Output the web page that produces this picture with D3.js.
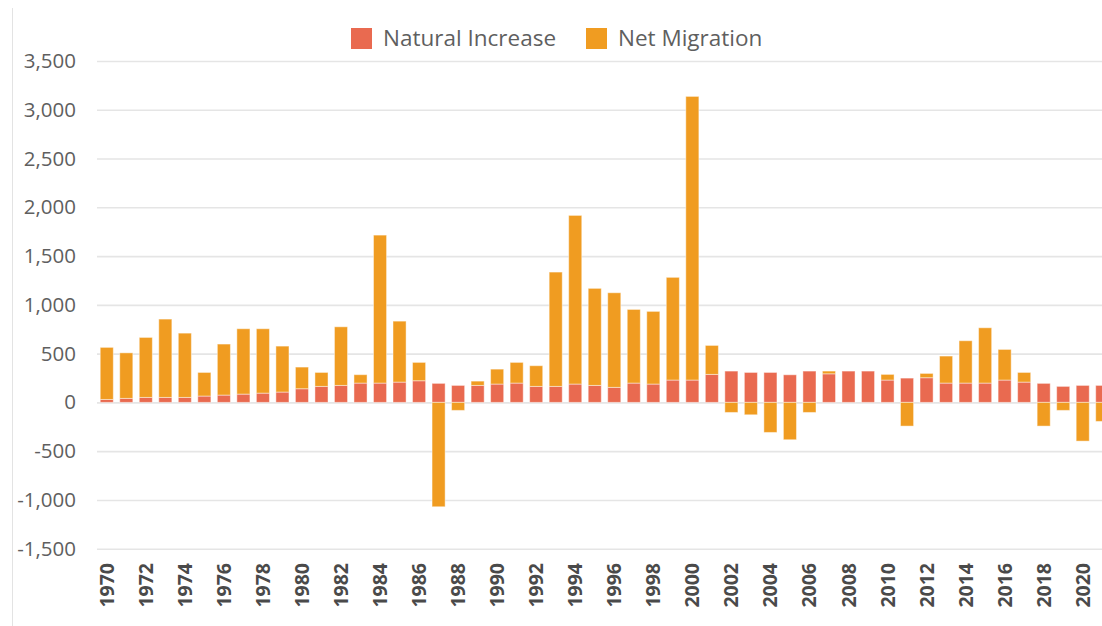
<!DOCTYPE html>
<html>
<head>
<meta charset="utf-8">
<script src="https://cdn.jsdelivr.net/npm/d3@7"></script>
<style>
  body { margin: 0; background: #fff; overflow: hidden; }
  svg { display: block; }
</style>
</head>
<body>
<div id="chart"></div>
<script>
// years shown on the x axis
const years = d3.range(1970, 2022);

// natural increase per year (red, bottom of stack)
const naturalIncrease = [
  30, 41, 51, 51, 51, 65, 75, 85, 95, 106,
  140, 164, 174, 198, 198, 208, 222, 195, 174, 174,
  188, 198, 164, 164, 188, 174, 154, 198, 188, 229,
  229, 287, 321, 307, 307, 283, 321, 293, 321, 321,
  229, 249, 253, 198, 198, 198, 229, 208, 195, 164,
  174, 174
];

// net migration per year (orange)
const netMigration = [
  534, 467, 615, 803, 659, 242, 523, 670, 660, 471,
  222, 143, 601, 86, 1517, 625, 188, -1070, -82, 44,
  153, 212, 212, 1172, 1729, 995, 970, 755, 745, 1053,
  2908, 297, -103, -127, -308, -383, -103, 28, 0, 0,
  58, -243, 44, 277, 434, 567, 314, 99, -243, -82,
  -397, -195
];

const yTicks = [-1500, -1000, -500, 0, 500, 1000, 1500, 2000, 2500, 3000, 3500];
const seriesNames = ["Natural Increase", "Net Migration"];
const seriesColors = ["#E96A50", "#F09C21"];

const width = 1102, height = 626;

let svg = d3.select("#chart")
  .append("svg")
    .attr("width", width)
    .attr("height", height)
    .attr("font-family", "'Open Sans', sans-serif")
;

// thin page border on the left
svg.append("line")
  .attr("x1", 12.5).attr("x2", 12.5)
  .attr("y1", 8).attr("y2", height)
  .attr("stroke", "#e3e3e3")
  .attr("stroke-width", 1)
;

let x = d3.scaleBand()
  .domain(years)
  .range([97, 1112])
  .paddingInner(0.33)
  .paddingOuter(0.165)
;

let y = d3.scaleLinear()
  .domain([-1500, 3500])
  .range([548.7, 61])
;

// plain hyphen for negatives, like the original
let fmt = d => d3.format(",")(d).replace("\u2212", "-");

// gridlines + y labels
let yAxis = d3.axisLeft(y)
  .tickValues(yTicks)
  .tickSize(-(width - 97))
  .tickPadding(21)
  .tickFormat(fmt)
;

let yg = svg.append("g")
  .attr("transform", "translate(97,0)")
  .call(yAxis)
;
yg.select(".domain").remove();
yg.selectAll(".tick line")
  .attr("stroke", "#e5e5e5")
  .attr("stroke-width", 1.6)
;
yg.selectAll(".tick text")
  .attr("fill", "#5f5f5f")
  .attr("font-size", 20.5)
  .attr("font-family", "'Open Sans', sans-serif")
;

// stacked data
let table = years.map((yr, i) => ({
  year: yr,
  ni: naturalIncrease[i],
  nm: netMigration[i]
}));

let stacked = d3.stack()
  .keys(["ni", "nm"])
  .offset(d3.stackOffsetDiverging)(table)
;

let layers = svg.selectAll(".layer").data(stacked).enter()
  .append("g")
    .attr("class", "layer")
    .attr("fill", (d, i) => seriesColors[i])
;

layers.selectAll("rect")
  .data(d => d)
  .enter()
  .append("rect")
    .attr("x", d => x(d.data.year))
    .attr("width", x.bandwidth())
    .attr("y", d => y(Math.max(d[0], d[1])))
    .attr("height", d => Math.abs(y(d[0]) - y(d[1])))
    .attr("stroke", "#ffffff")
    .attr("stroke-opacity", 0.45)
    .attr("stroke-width", 1)
;

// year labels every other year, rotated
let xAxis = d3.axisBottom(x)
  .tickValues(years.filter(yr => yr % 2 === 0))
  .tickSize(0)
;

let xg = svg.append("g")
  .attr("transform", "translate(0,563)")
  .call(xAxis)
;
xg.select(".domain").remove();
xg.selectAll(".tick text")
  .attr("transform", "rotate(-90)")
  .attr("text-anchor", "end")
  .attr("x", 0)
  .attr("y", 0)
  .attr("dy", "0.36em")
  .attr("fill", "#4a4a4a")
  .attr("font-size", 19.5)
  .attr("font-weight", "bold")
  .attr("font-family", "'Open Sans', sans-serif")
;

// legend
let legendX = [351, 586];
let legend = svg.selectAll(".legend").data(seriesNames).enter()
  .append("g")
    .attr("class", "legend")
    .attr("transform", (d, i) => "translate(" + legendX[i] + ",28)")
;
legend.append("rect")
  .attr("width", 21)
  .attr("height", 21)
  .attr("fill", (d, i) => seriesColors[i])
;
legend.append("text")
  .attr("x", 32)
  .attr("y", 18)
  .attr("font-size", 22.5)
  .attr("fill", "#5f5f5f")
  .text(d => d)
;
</script>
</body>
</html>
